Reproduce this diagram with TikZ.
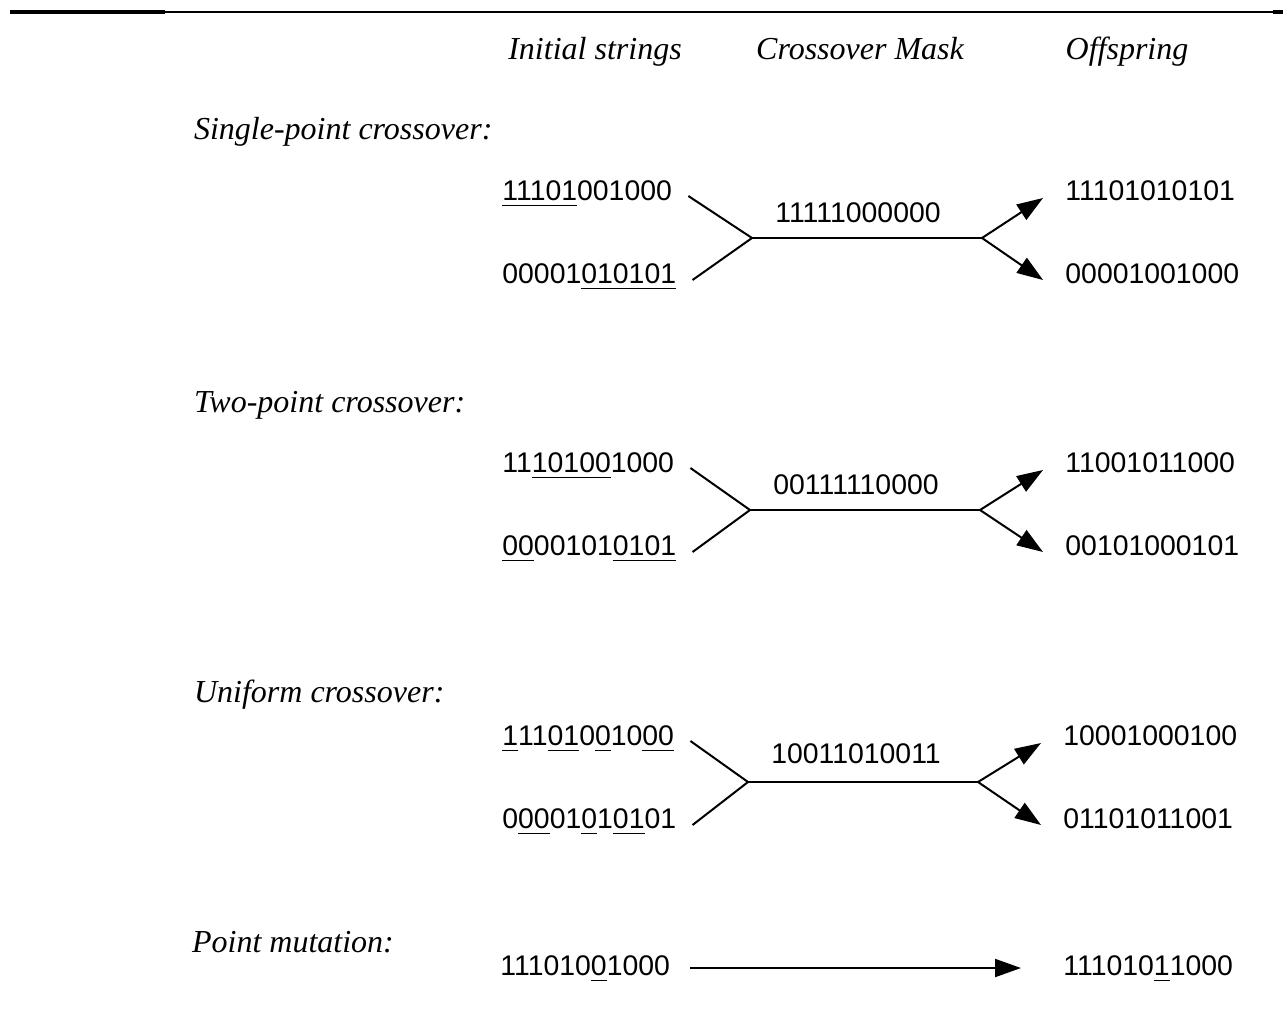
\documentclass[tikz,border=0pt]{standalone}
\usepackage{fontspec}
\setmainfont{Liberation Serif}
\newfontfamily\bitfont{Liberation Sans}
\usetikzlibrary{arrows.meta}
\newcommand{\bitul}[1]{\underline{#1\rule[-1.5pt]{0pt}{1pt}}}

\begin{document}
\begin{tikzpicture}[x=0.5pt,y=-0.5pt,
  head/.style={font=\fontsize{16}{19}\selectfont\itshape},
  bits/.style={font=\bitfont\fontsize{14.2}{17}\selectfont,inner sep=0pt},
  wire/.style={black,line width=1pt},
  arr/.style={wire,-{Triangle[length=13pt,width=9pt]}}]

\useasboundingbox (0,0) rectangle (1283,1022);

% rule on top
\draw[line width=1.6pt] (10,12) -- (165,12);
\draw[line width=0.8pt] (165,12) -- (1283,12);
\draw[line width=1.6pt] (1273,12) -- (1283,12);

% column heads
\node[head,anchor=base] (hInit) at (595,60) {Initial strings};
\node[head,anchor=base] (hMask) at (860,60) {Crossover Mask};
\node[head,anchor=base] (hOff) at (1127,60) {Offspring};

% single-point
\node[head,anchor=base west] (lSingle) at (187,140) {Single-point crossover:};
\node[bits,anchor=base west] (sA) at (502,200) {\bitul{11101}001000};
\node[bits,anchor=base west] (sB) at (502,283) {00001\bitul{010101}};
\node[bits,anchor=base] (sM) at (858,222) {11111000000};
\node[bits,anchor=base west] (sC) at (1065,200) {11101010101};
\node[bits,anchor=base west] (sD) at (1065,283) {00001001000};
\coordinate (sJ) at (752,238);
\coordinate (sK) at (982,238);

\draw[wire] ([xshift=8pt,yshift=2pt]sA.base east) -- (sJ) -- ([xshift=8pt,yshift=1.5pt]sB.base east);
\draw[wire] (sJ) -- (sK);
\draw[arr] (sK) -- ([xshift=-11pt,yshift=1pt]sC.base west);
\draw[arr] (sK) -- ([xshift=-11pt,yshift=1.5pt]sD.base west);

% two-point
\node[head,anchor=base west] (lTwo) at (187,412) {Two-point crossover:};
\node[bits,anchor=base west] (tA) at (502,472) {11\bitul{10100}1000};
\node[bits,anchor=base west] (tB) at (502,555) {\bitul{00}00101\bitul{0101}};
\node[bits,anchor=base] (tM) at (856,494) {00111110000};
\node[bits,anchor=base west] (tC) at (1065,472) {11001011000};
\node[bits,anchor=base west] (tD) at (1065,555) {00101000101};
\coordinate (tJ) at (750,510);
\coordinate (tK) at (980,510);

\draw[wire] ([xshift=8pt,yshift=2pt]tA.base east) -- (tJ) -- ([xshift=8pt,yshift=1.5pt]tB.base east);
\draw[wire] (tJ) -- (tK);
\draw[arr] (tK) -- ([xshift=-11pt,yshift=1pt]tC.base west);
\draw[arr] (tK) -- ([xshift=-11pt,yshift=1.5pt]tD.base west);

% uniform
\node[head,anchor=base west] (lUni) at (187,702) {Uniform crossover:};
\node[bits,anchor=base west] (uA) at (502,745) {\bitul{1}11\bitul{01}0\bitul{0}10\bitul{00}};
\node[bits,anchor=base west] (uB) at (502,828) {0\bitul{00}01\bitul{0}1\bitul{01}01};
\node[bits,anchor=base] (uM) at (856,763) {10011010011};
\node[bits,anchor=base west] (uC) at (1063,745) {10001000100};
\node[bits,anchor=base west] (uD) at (1063,828) {01101011001};
\coordinate (uJ) at (748,782);
\coordinate (uK) at (978,782);

\draw[wire] ([xshift=8pt,yshift=2pt]uA.base east) -- (uJ) -- ([xshift=8pt,yshift=1.5pt]uB.base east);
\draw[wire] (uJ) -- (uK);
\draw[arr] (uK) -- ([xshift=-11pt,yshift=1pt]uC.base west);
\draw[arr] (uK) -- ([xshift=-11pt,yshift=1.5pt]uD.base west);

% mutation
\node[head,anchor=base west] (lMut) at (185,952) {Point mutation:};
\node[bits,anchor=base west] (mA) at (500,975) {111010\bitul{0}1000};
\node[bits,anchor=base west] (mB) at (1063,975) {111010\bitul{1}1000};
\draw[arr] ([xshift=10pt,yshift=3.5pt]mA.base east) -- ([xshift=-21pt,yshift=3.5pt]mB.base west);

\end{tikzpicture}
\end{document}
